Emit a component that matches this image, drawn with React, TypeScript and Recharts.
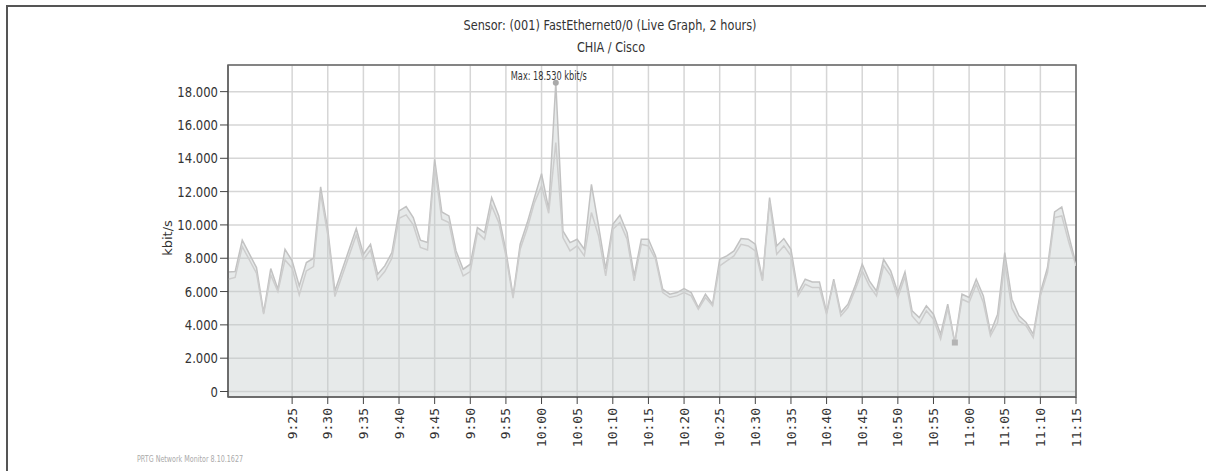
import {
  Area,
  CartesianGrid,
  ComposedChart,
  Line,
  ReferenceArea,
  ReferenceDot,
  XAxis,
  YAxis,
} from 'recharts'

// minutes since midnight (9:16 .. 11:15), one reading per minute
const minutes = [
  556, 557, 558, 560, 561, 562, 563, 564, 565, 566, 567, 568, 569, 570, 571,
  574, 575, 576, 577, 578, 579, 580, 581, 582, 583, 584, 585, 586, 587, 588,
  589, 590, 591, 592, 593, 594, 595, 596, 597, 598, 599, 600, 601, 602, 603,
  604, 605, 606, 607, 608, 609, 610, 611, 612, 613, 614, 615, 616, 617, 618,
  619, 620, 621, 622, 623, 624, 625, 626, 627, 628, 629, 630, 631, 632, 633,
  634, 635, 636, 637, 638, 639, 640, 641, 642, 643, 644, 645, 646, 647, 648,
  649, 650, 651, 652, 653, 654, 655, 656, 657, 658, 659, 660, 661, 662, 663,
  664, 665, 666, 667, 668, 669, 670, 671, 672, 673, 674, 675,
]

// kbit/s, traffic total (upper line)
const totalKbit = [
  7180, 7200, 9080, 7440, 4740, 7380, 6140, 8540, 7840, 6340, 7740, 8000, 12280, 9740, 6040,
  9780, 8240, 8840, 7040, 7540, 8340, 10840, 11100, 10440, 9080, 8940, 13940, 10780, 10540, 8440,
  7340, 7640, 9840, 9540, 11640, 10540, 8440, 5740, 8840, 10140, 11640, 13080, 10940, 18530, 9640,
  8940, 9140, 8540, 12440, 9940, 7340, 10040, 10580, 9540, 6940, 9140, 9140, 8140, 6140, 5840,
  5940, 6180, 5940, 5040, 5840, 5240, 7940, 8140, 8440, 9180, 9140, 8840, 6740, 11640, 8740,
  9180, 8540, 5940, 6740, 6580, 6580, 4740, 6740, 4740, 5240, 6340, 7640, 6640, 6040, 7940,
  7240, 5940, 7180, 4840, 4440, 5140, 4640, 3440, 5240, 2940, 5840, 5640, 6740, 5740, 3540,
  4640, 8340, 5540, 4540, 4140, 3440, 5940, 7440, 10780, 11080, 9340, 7640,
]

// kbit/s, traffic in (lower line)
const inKbit = [
  6740, 6850, 8700, 7100, 4640, 7000, 6000, 7900, 7400, 5800, 7240, 7500, 11900, 9400, 5700,
  9400, 7900, 8500, 6700, 7200, 8000, 10400, 10600, 10000, 8650, 8500, 13500, 10340, 10140, 8100,
  6940, 7200, 9540, 9140, 11140, 10140, 8140, 5600, 8540, 9800, 11340, 12340, 10700, 14940, 9240,
  8440, 8740, 8140, 10740, 9340, 6940, 9740, 10140, 9140, 6640, 8840, 8740, 7940, 5940, 5640,
  5740, 5940, 5740, 4940, 5640, 5140, 7540, 7840, 8140, 8840, 8740, 8440, 6640, 11400, 8240,
  8740, 8140, 5740, 6440, 6240, 6240, 4640, 6600, 4540, 5040, 6100, 7240, 6340, 5740, 7540,
  6940, 5640, 6900, 4540, 4040, 4840, 4340, 3140, 5000, 2900, 5540, 5340, 6440, 5340, 3340,
  4140, 7740, 5000, 4240, 3940, 3240, 5740, 7140, 10440, 10540, 8940, 7540,
]

const xTicks = [
  565, 570, 575, 580, 585, 590, 595, 600, 605, 610, 615, 620, 625, 630, 635,
  640, 645, 650, 655, 660, 665, 670, 675,
]
const xTickLabels = [
  '9:25', '9:30', '9:35', '9:40', '9:45', '9:50', '9:55', '10:00', '10:05', '10:10', '10:15', '10:20',
  '10:25', '10:30', '10:35', '10:40', '10:45', '10:50', '10:55', '11:00', '11:05', '11:10', '11:15',
]

const yTicks = [0, 2000, 4000, 6000, 8000, 10000, 12000, 14000, 16000, 18000]
const yTickLabels = ['0', '2.000', '4.000', '6.000', '8.000', '10.000', '12.000', '14.000', '16.000', '18.000']

const maxPoint = { t: 602, value: 18530, label: 'Max: 18.530 kbit/s' }
const minPoint = { t: 658, value: 2940 }

const chartData = minutes.map((t, i) => ({
  t,
  total: totalKbit[i],
  inbound: inKbit[i],
}))

const FONT = 'DejaVu Sans, Verdana, sans-serif'

const YTick = ({ x, y, payload }: any) => {
  const idx = yTicks.indexOf(payload.value)
  return (
    <g transform={`translate(${x},${y})`}>
      <text
        transform='scale(0.83,1)'
        textAnchor='end'
        dy='0.36em'
        fontSize={14}
        fill='#333'
        fontFamily={FONT}
      >
        {yTickLabels[idx]}
      </text>
    </g>
  )
}

const XTick = ({ x, y, payload }: any) => {
  const idx = xTicks.indexOf(payload.value)
  return (
    <g transform={`translate(${x},${y})`}>
      <text
        transform='rotate(-90)'
        textAnchor='end'
        dy='0.35em'
        fontSize={13}
        fill='#333'
        fontFamily='DejaVu Sans Mono, monospace'
      >
        {xTickLabels[idx]}
      </text>
    </g>
  )
}

const MaxMarker = ({ cx, cy }: any) => (
  <g>
    <circle cx={cx} cy={cy} r={3} fill='#aaaaaa' />
    <text
      x={cx - 7}
      y={cy - 3}
      textAnchor='middle'
      fontSize={12}
      fill='#333'
      fontFamily={FONT}
      textLength={76}
      lengthAdjust='spacingAndGlyphs'
    >
      {maxPoint.label}
    </text>
  </g>
)

const MinMarker = ({ cx, cy }: any) => (
  <rect x={cx - 3} y={cy - 3} width={6} height={6} fill='#b4b4b4' />
)

export default function App() {
  return (
    <div
      style={{
        position: 'absolute',
        left: 0,
        top: 0,
        width: 1206,
        height: 471,
        background: '#fff',
        overflow: 'hidden',
      }}
    >
      {/* outer frame: top and left edges only */}
      <div
        style={{
          position: 'absolute',
          left: 6,
          top: 5,
          width: 1200,
          height: 466,
          borderTop: '2px solid #555',
          borderLeft: '2px solid #555',
          boxSizing: 'border-box',
        }}
      />

      <div style={{ position: 'absolute', left: 0, top: 0 }}>
        <ComposedChart
          width={1206}
          height={471}
          data={chartData}
          margin={{ top: 65, right: 130, bottom: 0, left: 0 }}
        >
          <CartesianGrid stroke='#d6d6d6' strokeWidth={1.5} />
          <XAxis
            dataKey='t'
            type='number'
            domain={[556, 675]}
            ticks={xTicks}
            height={74}
            tickSize={7}
            tickMargin={4}
            tick={<XTick />}
            tickLine={{ stroke: '#444' }}
            axisLine={{ stroke: '#666', strokeWidth: 1.5 }}
            allowDataOverflow
          />
          <YAxis
            type='number'
            domain={[-330, 19600]}
            ticks={yTicks}
            width={228}
            tickSize={8}
            tickMargin={2}
            tick={<YTick />}
            tickLine={{ stroke: '#444' }}
            axisLine={{ stroke: '#666', strokeWidth: 1.5 }}
            allowDataOverflow
          />
          <Area
            type='linear'
            dataKey='total'
            stroke='#c2c2c2'
            strokeWidth={1.5}
            fill='#c4caca'
            fillOpacity={0.4}
            baseValue='dataMin'
            dot={false}
            activeDot={false}
            isAnimationActive={false}
          />
          <Line
            type='linear'
            dataKey='inbound'
            stroke='#cdcdcd'
            strokeWidth={1.5}
            dot={false}
            activeDot={false}
            isAnimationActive={false}
          />
          <ReferenceArea
            x1={556}
            x2={675}
            y1={-330}
            y2={19600}
            fill='none'
            stroke='#666'
            strokeWidth={1.5}
            ifOverflow='visible'
          />
          <ReferenceDot x={maxPoint.t} y={maxPoint.value} shape={<MaxMarker />} ifOverflow='visible' />
          <ReferenceDot x={minPoint.t} y={minPoint.value} shape={<MinMarker />} ifOverflow='visible' />
        </ComposedChart>
      </div>

      <svg
        width={1206}
        height={471}
        style={{ position: 'absolute', left: 0, top: 0, pointerEvents: 'none' }}
      >
        <text
          x={610}
          y={30}
          textAnchor='middle'
          fontSize={14}
          fill='#333'
          fontFamily={FONT}
          textLength={293}
          lengthAdjust='spacingAndGlyphs'
        >
          Sensor: (001) FastEthernet0/0 (Live Graph, 2 hours)
        </text>
        <text
          x={611}
          y={52}
          textAnchor='middle'
          fontSize={14}
          fill='#333'
          fontFamily={FONT}
          textLength={68}
          lengthAdjust='spacingAndGlyphs'
        >
          CHIA / Cisco
        </text>
        <text
          x={172}
          y={238}
          transform='rotate(-90 172 238)'
          textAnchor='middle'
          fontSize={13}
          fill='#333'
          fontFamily={FONT}
        >
          kbit/s
        </text>
        <text
          x={137}
          y={462}
          fontSize={8}
          fill='#aaa'
          fontFamily={FONT}
          textLength={106}
          lengthAdjust='spacingAndGlyphs'
        >
          PRTG Network Monitor 8.10.1627
        </text>
      </svg>
    </div>
  )
}
